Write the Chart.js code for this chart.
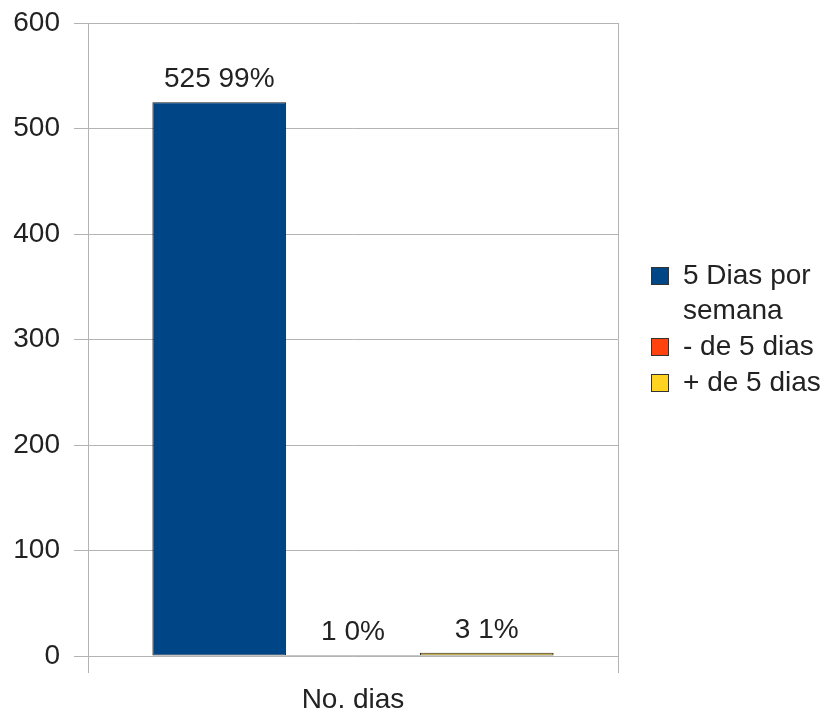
<!DOCTYPE html>
<html>
<head>
<meta charset="utf-8">
<script src="https://cdn.jsdelivr.net/npm/chart.js@4"></script>
<style>
html,body{margin:0;padding:0;background:#fff;}
#wrap{width:835px;height:713px;}
</style>
</head>
<body>
<div id="wrap"><canvas id="c" width="835" height="713"></canvas></div>
<script>
const categories = ['No. dias'];
const seriesNames = ['5 Dias por semana', '- de 5 dias', '+ de 5 dias'];
const seriesValues = [525, 1, 3];
const seriesColors = ['#004586', '#ff420e', '#ffd320'];
const yTicks = [0, 100, 200, 300, 400, 500, 600];

const FONT = '"Liberation Sans", Arial, sans-serif';
const FS = 28;
const TXT = '#222222';
const total = seriesValues.reduce((a, b) => a + b, 0);

const valueLabels = {
  id: 'valueLabels',
  afterDatasetsDraw(chart) {
    const ctx = chart.ctx;
    ctx.save();
    ctx.font = FS + 'px ' + FONT;
    ctx.fillStyle = TXT;
    ctx.textAlign = 'center';
    ctx.textBaseline = 'middle';
    chart.data.datasets.forEach((ds, i) => {
      const meta = chart.getDatasetMeta(i);
      meta.data.forEach((el, j) => {
        const v = ds.data[j];
        const pct = Math.round(v / total * 100);
        ctx.fillText(v + ' ' + pct + '%', el.x, el.y - 23);
      });
    });
    ctx.restore();
  }
};

const sideLegend = {
  id: 'sideLegend',
  afterDraw(chart) {
    const ctx = chart.ctx;
    ctx.save();
    ctx.font = FS + 'px ' + FONT;
    ctx.textBaseline = 'middle';
    ctx.textAlign = 'left';
    const x0 = 651, box = 18, tx = 683, maxW = 150, lh = 35;
    let y = 276;
    chart.data.datasets.forEach((ds, i) => {
      const words = ds.label.split(' ');
      const lines = [];
      let cur = '';
      words.forEach(w => {
        const t = cur ? cur + ' ' + w : w;
        if (cur && ctx.measureText(t).width > maxW) { lines.push(cur); cur = w; }
        else cur = t;
      });
      lines.push(cur);
      ctx.fillStyle = ds.backgroundColor;
      ctx.fillRect(x0, y - box / 2, box, box);
      ctx.strokeStyle = '#333';
      ctx.lineWidth = 1;
      ctx.strokeRect(x0 + 0.5, y - box / 2 + 0.5, box - 1, box - 1);
      ctx.fillStyle = TXT;
      lines.forEach((ln, k) => ctx.fillText(ln, tx, y + k * lh));
      y += lines.length * lh + 1;
    });
    ctx.restore();
  }
};

new Chart(document.getElementById('c'), {
  type: 'bar',
  data: {
    labels: categories,
    datasets: seriesNames.map((n, i) => ({
      label: n,
      data: [seriesValues[i]],
      backgroundColor: seriesColors[i],
      borderColor: '#1a1a1a',
      borderWidth: 1,
      borderSkipped: false,
      categoryPercentage: 0.757,
      barPercentage: 1.0
    }))
  },
  options: {
    responsive: false,
    animation: false,
    devicePixelRatio: 1,
    layout: { padding: { left: 0, right: 217, top: 23, bottom: 0 } },
    plugins: { legend: { display: false }, tooltip: { enabled: false } },
    scales: {
      x: {
        offset: true,
        grid: { offset: true, color: '#b3b3b3', tickLength: 17, drawOnChartArea: true },
        border: { display: false },
        ticks: { font: { size: FS, family: FONT }, color: TXT, padding: 10 },
        afterFit(s) { s.height = 57; s.paddingLeft = 0; s.paddingRight = 0; }
      },
      y: {
        min: 0, max: 600,
        afterBuildTicks(s) { s.ticks = yTicks.map(v => ({ value: v })); },
        grid: { color: '#b3b3b3', tickLength: 14 },
        border: { color: '#b3b3b3' },
        ticks: { font: { size: FS, family: FONT }, color: TXT, padding: 14 },
        afterFit(s) { s.width = 88; s.paddingTop = 0; s.paddingBottom = 0; }
      }
    }
  },
  plugins: [valueLabels, sideLegend]
});
</script>
</body>
</html>
